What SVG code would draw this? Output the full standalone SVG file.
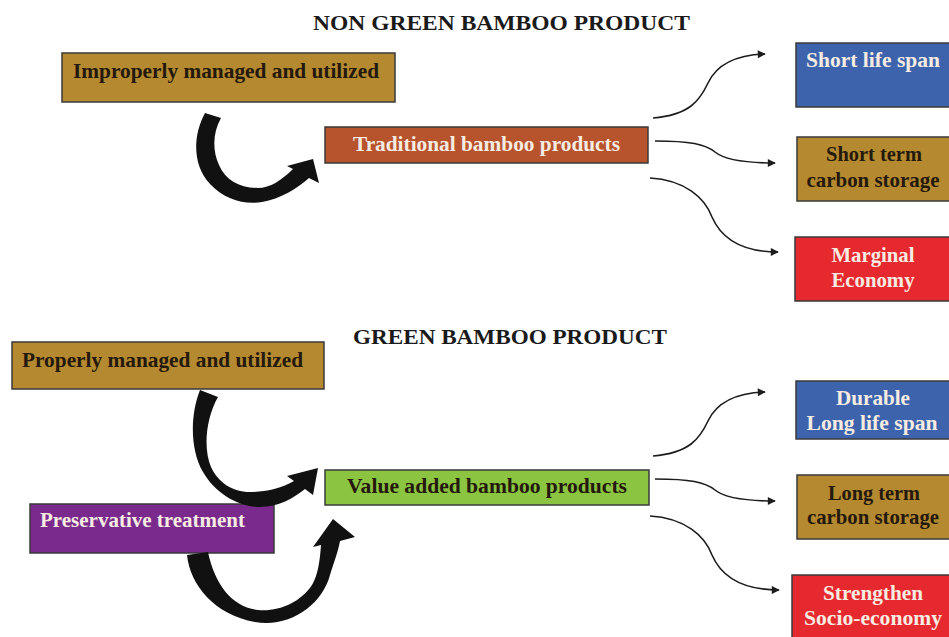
<svg xmlns="http://www.w3.org/2000/svg" width="949" height="637" viewBox="0 0 949 637">
  <defs>
    <marker id="tip" viewBox="0 0 10 10" refX="9" refY="5" markerWidth="9" markerHeight="8" markerUnits="userSpaceOnUse" orient="auto">
      <path d="M0 0 L10 5 L0 10 Z" fill="#1c1c1c"/>
    </marker>
    <style>
      .box { stroke: #3a3a3a; stroke-width: 1.5; }
      .gold { fill: #b5892f; }
      .rust { fill: #b7532d; }
      .blue { fill: #3d63ad; }
      .red { fill: #e6292e; }
      .green { fill: #8bc441; }
      .purple { fill: #7a2a8d; }
      text { font-family: "Liberation Serif", "Times New Roman", serif; font-weight: bold; }
      .title { font-size: 22px; fill: #1a1a1a; }
      .lbl { font-size: 21px; }
      .dark { fill: #24190c; }
      .light { fill: #f6ece2; }
      .mid { text-anchor: middle; }
      .link { fill: none; stroke: #1c1c1c; stroke-width: 1.6; marker-end: url(#tip); }
      .bend { fill: #111111; }
    </style>
  </defs>
  <rect width="949" height="637" fill="#ffffff"/>

  <!-- section headings -->
  <text class="title" x="313" y="30" textLength="377" lengthAdjust="spacingAndGlyphs">NON GREEN BAMBOO PRODUCT</text>
  <text class="title" x="353" y="344" textLength="314" lengthAdjust="spacingAndGlyphs">GREEN BAMBOO PRODUCT</text>

  <!-- upper flow -->
  <g id="improper">
    <rect class="box gold" x="62" y="53" width="333" height="49"/>
    <text class="lbl dark" x="73" y="78" textLength="306" lengthAdjust="spacingAndGlyphs">Improperly managed and utilized</text>
  </g>
  <g id="traditional">
    <rect class="box rust" x="325" y="127" width="323" height="36"/>
    <text class="lbl light" x="353" y="151" textLength="267" lengthAdjust="spacingAndGlyphs">Traditional bamboo products</text>
  </g>
  <g id="short-life">
    <rect class="box blue" x="796" y="43" width="158" height="64"/>
    <text class="lbl light mid" x="873" y="67" textLength="134" lengthAdjust="spacingAndGlyphs">Short life span</text>
  </g>
  <g id="short-carbon">
    <rect class="box gold" x="797" y="137" width="157" height="64"/>
    <text class="lbl dark mid" x="874" y="161" textLength="96" lengthAdjust="spacingAndGlyphs">Short term</text>
    <text class="lbl dark mid" x="873" y="187" textLength="133" lengthAdjust="spacingAndGlyphs">carbon storage</text>
  </g>
  <g id="marginal">
    <rect class="box red" x="795" y="237" width="159" height="64"/>
    <text class="lbl light mid" x="873" y="262" textLength="83" lengthAdjust="spacingAndGlyphs">Marginal</text>
    <text class="lbl light mid" x="873" y="287" textLength="83" lengthAdjust="spacingAndGlyphs">Economy</text>
  </g>

  <!-- lower flow -->
  <g id="proper">
    <rect class="box gold" x="12" y="342" width="312" height="47"/>
    <text class="lbl dark" x="22" y="367" textLength="281" lengthAdjust="spacingAndGlyphs">Properly managed and utilized</text>
  </g>
  <g id="value-added">
    <rect class="box green" x="325" y="470" width="324" height="35"/>
    <text class="lbl dark" x="347" y="493" textLength="280" lengthAdjust="spacingAndGlyphs">Value added bamboo products</text>
  </g>
  <g id="preservative">
    <rect class="box purple" x="30" y="504" width="244" height="49"/>
    <text class="lbl light" x="40" y="527" textLength="205" lengthAdjust="spacingAndGlyphs">Preservative treatment</text>
  </g>
  <g id="durable">
    <rect class="box blue" x="796" y="381" width="158" height="58"/>
    <text class="lbl light mid" x="873" y="405" textLength="74" lengthAdjust="spacingAndGlyphs">Durable</text>
    <text class="lbl light mid" x="872" y="430" textLength="131" lengthAdjust="spacingAndGlyphs">Long life span</text>
  </g>
  <g id="long-carbon">
    <rect class="box gold" x="797" y="475" width="157" height="64"/>
    <text class="lbl dark mid" x="874" y="500" textLength="92" lengthAdjust="spacingAndGlyphs">Long term</text>
    <text class="lbl dark mid" x="873" y="524" textLength="132" lengthAdjust="spacingAndGlyphs">carbon storage</text>
  </g>
  <g id="socio">
    <rect class="box red" x="792" y="575" width="162" height="66"/>
    <text class="lbl light mid" x="873" y="600" textLength="100" lengthAdjust="spacingAndGlyphs">Strengthen</text>
    <text class="lbl light mid" x="873" y="625" textLength="138" lengthAdjust="spacingAndGlyphs">Socio-economy</text>
  </g>

  <g id="connectors">
    <!-- thick curved arrows into the product boxes -->
    <path class="bend" d="M205 113 C193 135 192 165 210 184 C225 200 245 205 262 202 C280 199 298 188 309 178 L319 183 L313 159 L287 166 L293 169 C282 180 270 188 258 188 C240 188 225 180 219 165 C212 150 213 132 221 118 Z"/>
    <path class="bend" d="M200 390 C190 415 190 450 203 472 C215 493 238 507 260 507 C278 507 294 498 305 489 L313 495 L318 468 L287 476 L294 481 C280 489 264 492 250 492 C232 492 218 482 211 467 C203 448 206 418 218 397 Z"/>
    <path class="bend" d="M187 555 C190 585 215 615 255 622 C290 628 322 605 330 575 C334 562 338 552 340 541 L355 537 L333 519 L313 547 L321 545 C320 560 318 575 312 585 C300 603 278 612 258 610 C232 607 215 585 208 552 Z"/>

    <!-- thin outcome links, upper -->
    <path class="link" d="M653 118 C690 115 700 100 708 83 C716 66 735 55 765 54"/>
    <path class="link" d="M655 141 C690 141 705 144 715 152 C725 160 745 163 775 163"/>
    <path class="link" d="M650 178 C685 180 705 198 712 217 C722 240 745 252 778 252"/>

    <!-- thin outcome links, lower -->
    <path class="link" d="M653 456 C690 453 700 438 708 421 C716 404 735 393 765 392"/>
    <path class="link" d="M655 479 C690 479 705 482 715 490 C725 498 745 501 775 501"/>
    <path class="link" d="M650 516 C685 518 705 536 712 555 C722 578 745 590 779 590"/>
  </g>
</svg>
